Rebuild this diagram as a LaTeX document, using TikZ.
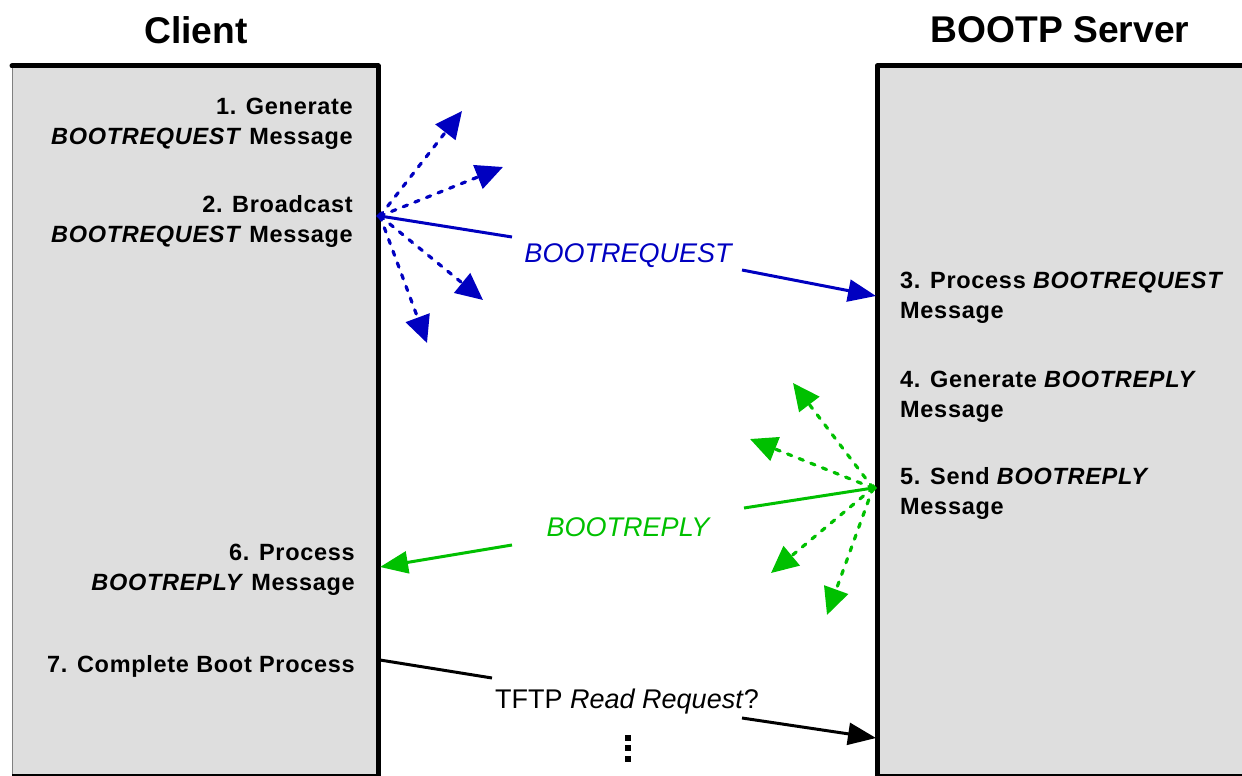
\documentclass[tikz,border=0pt]{standalone}
\usepackage{fontspec}
\setmainfont{Liberation Sans}
\usetikzlibrary{arrows.meta}
\definecolor{boxgray}{HTML}{DEDEDE}
\definecolor{reqblue}{HTML}{0000C0}
\definecolor{repgreen}{HTML}{00C000}
\tikzset{
  title/.style={font=\fontsize{37.2}{40}\selectfont\bfseries, inner sep=0pt},
  steptext/.style={font=\fontsize{23.5}{30}\selectfont\bfseries\addfontfeatures{LetterSpace=3}, inner sep=0pt},
  msglabel/.style={font=\fontsize{27}{30}\selectfont\itshape, inner sep=0pt},
  border/.style={line width=5pt, line cap=round, line join=round},
  flow/.style={line width=3pt},
  bigtip/.style={-{Triangle[length=28pt,width=22pt]}},
  fantip/.style={-{Triangle[length=27pt,width=25pt]}},
  fan/.style={line width=3.2pt, line cap=round, dash pattern=on 4.5pt off 8pt},
}
\begin{document}
\begin{tikzpicture}[x=1pt,y=-1pt]
\useasboundingbox (0,0) rectangle (1242,776);
% boxes
\fill[boxgray] (12,66) rectangle (378,776);
\fill[boxgray] (877,66) rectangle (1242,776);
\draw[line width=0.8pt, gray] (12,66) -- (12,776);
\draw[line width=1.5pt] (12,775) -- (378,775);
\draw[line width=1.5pt] (877,775) -- (1242,775);
\draw[border] (12,66) -- (378,66) -- (378,776);
\draw[border] (877,776) -- (877,66) -- (1242,66);
% titles
\node[title] (tclient) at (196,30) {Client};
\node[title] (tserver) at (1060,30) {BOOTP Server};
% client steps
\node[steptext, anchor=east, align=right] (s1) at (353,124) {1. Generate\\\textit{BOOTREQUEST} Message};
\node[steptext, anchor=east, align=right] (s2) at (353,221) {2. Broadcast\\\textit{BOOTREQUEST} Message};
\node[steptext, anchor=east, align=right] (s6) at (355,570) {6. Process\\\textit{BOOTREPLY} Message};
\node[steptext, anchor=east, align=right] (s7) at (355,666) {7. Complete Boot Process};
% server steps
\node[steptext, anchor=west, align=left] (s3) at (900,298) {3. Process \textit{BOOTREQUEST}\\Message};
\node[steptext, anchor=west, align=left] (s4) at (900,397) {4. Generate \textit{BOOTREPLY}\\Message};
\node[steptext, anchor=west, align=left] (s5) at (900,493) {5. Send \textit{BOOTREPLY}\\Message};
% coordinates
\coordinate (borig) at (380,216);
\coordinate (bgap1) at (512,237);
\coordinate (bgap2) at (742,270);
\coordinate (btip) at (876,296);
\coordinate (bu1) at (462,111);
\coordinate (bu2) at (503,167);
\coordinate (bd1) at (483,300);
\coordinate (bd2) at (427,343);
\coordinate (gorig) at (873,488);
\coordinate (ggap1) at (744,508);
\coordinate (ggap2) at (512,545);
\coordinate (gtip) at (380,567);
\coordinate (gu1) at (793,383);
\coordinate (gu2) at (750,439);
\coordinate (gd1) at (771,573);
\coordinate (gd2) at (827,615);
\coordinate (korig) at (380,660);
\coordinate (kgap1) at (492,678);
\coordinate (kgap2) at (742,718);
\coordinate (ktip) at (876,738);
% BOOTREQUEST (blue)
\begin{scope}[reqblue]
\draw[fan, fantip] (borig) -- (bu1);
\draw[fan, fantip] (borig) -- (bu2);
\draw[fan, fantip] (borig) -- (bd1);
\draw[fan, fantip] (borig) -- (bd2);
\draw[flow] (borig) -- (bgap1);
\draw[flow, bigtip] (bgap2) -- (btip);
\fill (borig) ++(-4,0) -- ++(4,-4) -- ++(4,4) -- ++(-4,4) -- cycle;
\node[msglabel] (lreq) at (628,256) {BOOTREQUEST};
\end{scope}
% BOOTREPLY (green)
\begin{scope}[repgreen]
\draw[fan, fantip] (gorig) -- (gu1);
\draw[fan, fantip] (gorig) -- (gu2);
\draw[fan, fantip] (gorig) -- (gd1);
\draw[fan, fantip] (gorig) -- (gd2);
\draw[flow] (gorig) -- (ggap1);
\draw[flow, bigtip] (ggap2) -- (gtip);
\fill (gorig) ++(-4,0) -- ++(4,-4) -- ++(4,4) -- ++(-4,4) -- cycle;
\node[msglabel] (lrep) at (628,527) {BOOTREPLY};
\end{scope}
% TFTP (black)
\draw[flow] (korig) -- (kgap1);
\draw[flow, bigtip] (kgap2) -- (ktip);
\node[font=\fontsize{27}{30}\selectfont, inner sep=0pt] (ltftp) at (627,702) {TFTP \textit{Read Request}?};
\fill (625,735) rectangle (631,741);
\fill (625,745) rectangle (631,751);
\fill (625,756) rectangle (631,762);
\end{tikzpicture}
\end{document}
